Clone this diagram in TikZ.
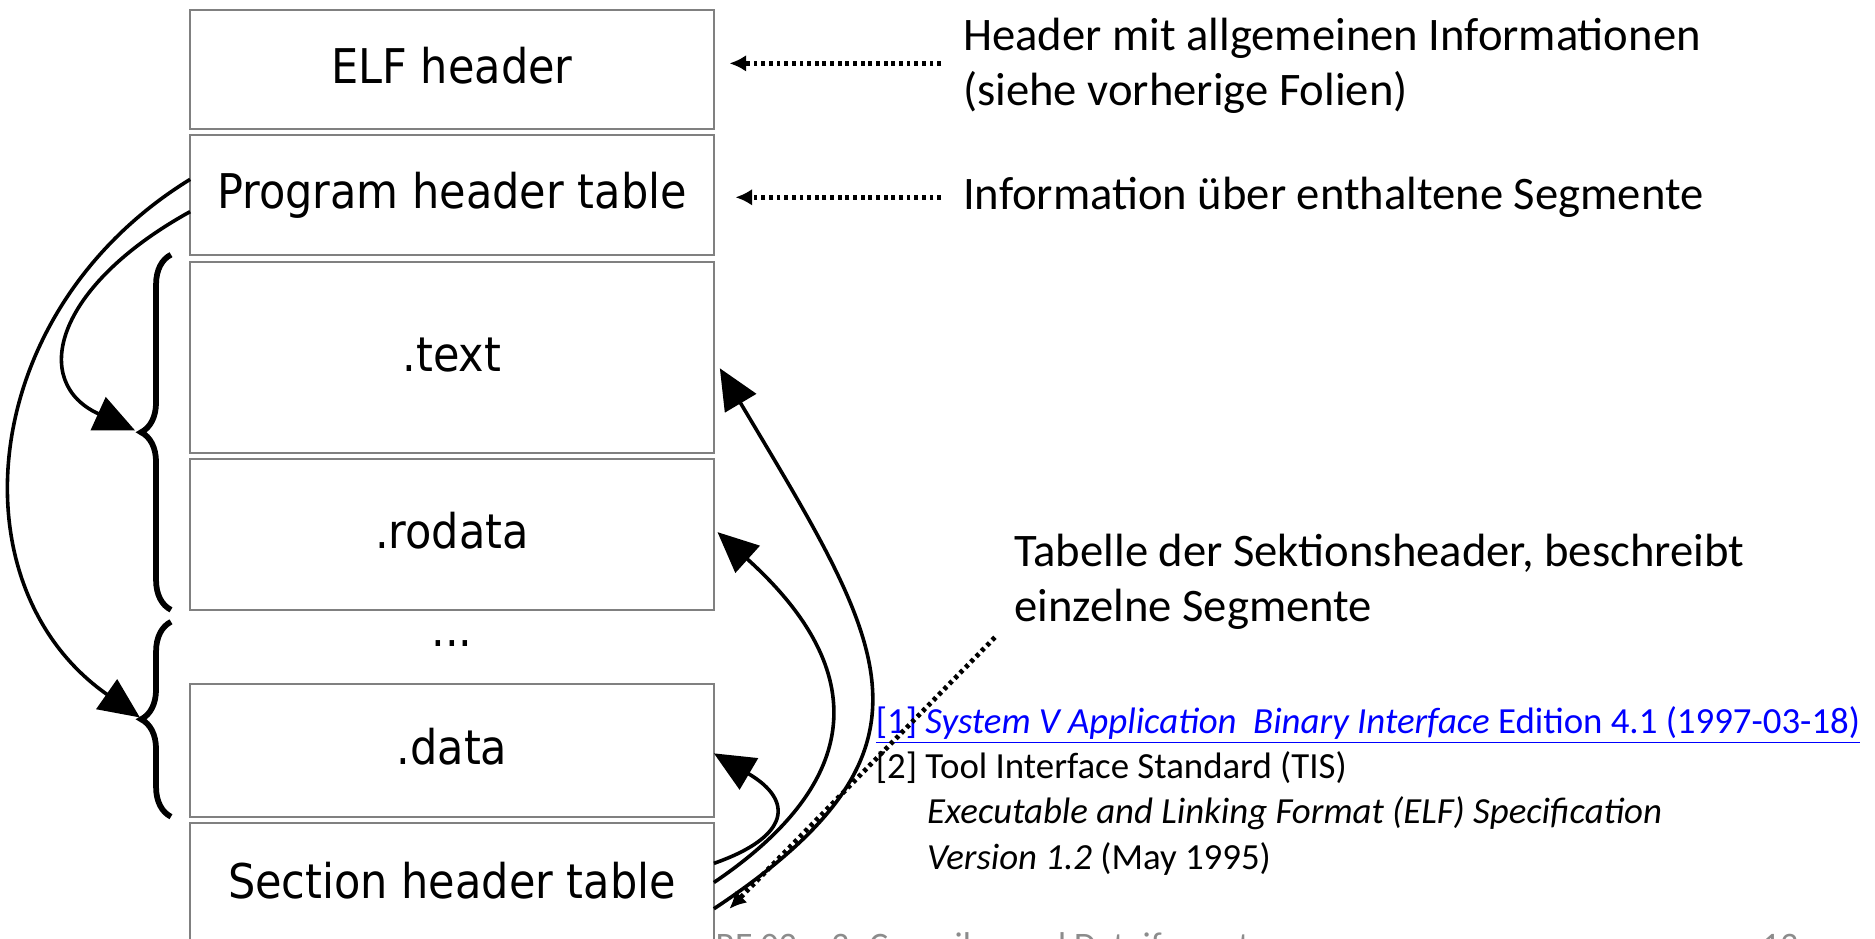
\documentclass[tikz,border=0pt]{standalone}
\usepackage{fontspec}
\setmainfont{Carlito}
\newfontfamily\boxfont[FakeStretch=0.9]{DejaVu Sans}
\usetikzlibrary{arrows.meta,decorations.pathreplacing}
\definecolor{linkblue}{RGB}{0,0,255}
\definecolor{boxgray}{RGB}{128,128,128}
\definecolor{footgray}{RGB}{140,140,140}

\begin{document}
\begin{tikzpicture}[x=0.5pt,y=-0.5pt,
  box/.style={draw=boxgray, line width=0.8pt, minimum width=219pt, inner sep=0pt, outer sep=0pt,
    font=\boxfont\fontsize{20}{24}\selectfont, text height=14.6pt, text depth=3pt},
  note/.style={anchor=base west, inner sep=0pt, font=\fontsize{19.5}{23}\selectfont},
  ref/.style={anchor=base west, inner sep=0pt, font=\fontsize{15.4}{19}\selectfont},
  curved/.style={line width=1.5pt, -{Triangle[length=17pt,width=15pt]}},
  pointer/.style={line width=2pt, dash pattern=on 1.6pt off 1.6pt, line cap=butt,
    -{Latex[length=7pt,width=7pt]}},
  curly/.style={line width=2.4pt, decorate, decoration={brace, amplitude=12.5pt, aspect=0.5}},
  foot/.style={anchor=base west, inner sep=0pt, font=\fontsize{15}{18}\selectfont, text=footgray},
]
\useasboundingbox (0,0) rectangle (1568,785);
\clip (0,0) rectangle (1568,785);

% layout of the ELF file
\node[box, minimum height=50pt]   (elfhdr)    at (378,58)    {ELF header};
\node[box, minimum height=50pt]   (phdr)      at (378,163)   {Program header table};
\node[box, minimum height=80pt]   (sectext)   at (378,299)   {.text};
\node[box, minimum height=63pt]   (secrodata) at (378,447)   {.rodata};
\node[anchor=base, inner sep=0pt, font=\boxfont\fontsize{20}{24}\selectfont] (dots) at (378,541) {...};
\node[box, minimum height=55.5pt] (secdata)   at (378,627.5) {.data};
\node[box, minimum height=52pt]   (shdr)      at (378,740)   {Section header table};

% segments grouped by braces
\draw[curly] (143,510) -- (143,213);
\draw[curly] (143,683) -- (143,520);
\coordinate (tipA) at (113,360);
\coordinate (tipB) at (117,600);

% program header entries point to segments
\draw[curved] ([yshift=-7pt]phdr.west) .. controls (45,240) and (25,320) .. (tipA);
\draw[curved] ([yshift=6.5pt]phdr.west) .. controls (-20,260) and (-40,490) .. (tipB);

% section header entries point to sections
\draw[curved] ([yshift=9pt]shdr.east) .. controls (660,700) and (665,670) .. ([yshift=-1.25pt]secdata.east);
\draw[curved] ([yshift=1pt]shdr.east) .. controls (730,648) and (722,555) .. ([xshift=1.5pt,yshift=1pt]secrodata.east);
\draw[curved] ([yshift=-10pt]shdr.east) .. controls (800,625) and (740,540) .. ([xshift=2.5pt,yshift=-4.5pt]sectext.east);

% explanations
\node[note] (hdrA)   at (805,42)  {Header mit allgemeinen Informationen};
\node[note] (hdrB)   at (805,88)  {(siehe vorherige Folien)};
\node[note] (phinfo) at (805,175) {Information über enthaltene Segmente};
\node[note] (shA)    at (848,474) {Tabelle der Sektionsheader, beschreibt};
\node[note] (shB)    at (848,520) {einzelne Segmente};

% references
\node[ref, text=linkblue] (refone) at (732,613)
  {\underline{[1] \textit{System V Application\ \ Binary Interface} Edition 4.1 (1997-03-18)}};
\node[ref] (reftwo)  at (732,651) {[2] Tool Interface Standard (TIS)};
\node[ref] (reftwob) at (775,689) {\textit{Executable and Linking Format (ELF) Specification}};
\node[ref] (reftwoc) at (775,727) {\textit{Version 1.2} (May 1995)};

% dotted pointers from the explanations
\coordinate (pA) at (787,53);
\coordinate (pB) at (787,165);
\coordinate (pC) at (832,533);
\draw[pointer] (pA) -- ([xshift=6.5pt,yshift=2.5pt]elfhdr.east);
\draw[pointer] (pB) -- ([xshift=9pt,yshift=-1pt]phdr.east);
\draw[pointer] (pC) -- ([xshift=6.5pt,yshift=-10pt]shdr.east);

% footer line
\node[foot] (footer) at (598,801) {RE 02 -- 3. Compiler und Dateiformate};
\node[foot] (pageno) at (1473,801) {13};
\end{tikzpicture}
\end{document}
